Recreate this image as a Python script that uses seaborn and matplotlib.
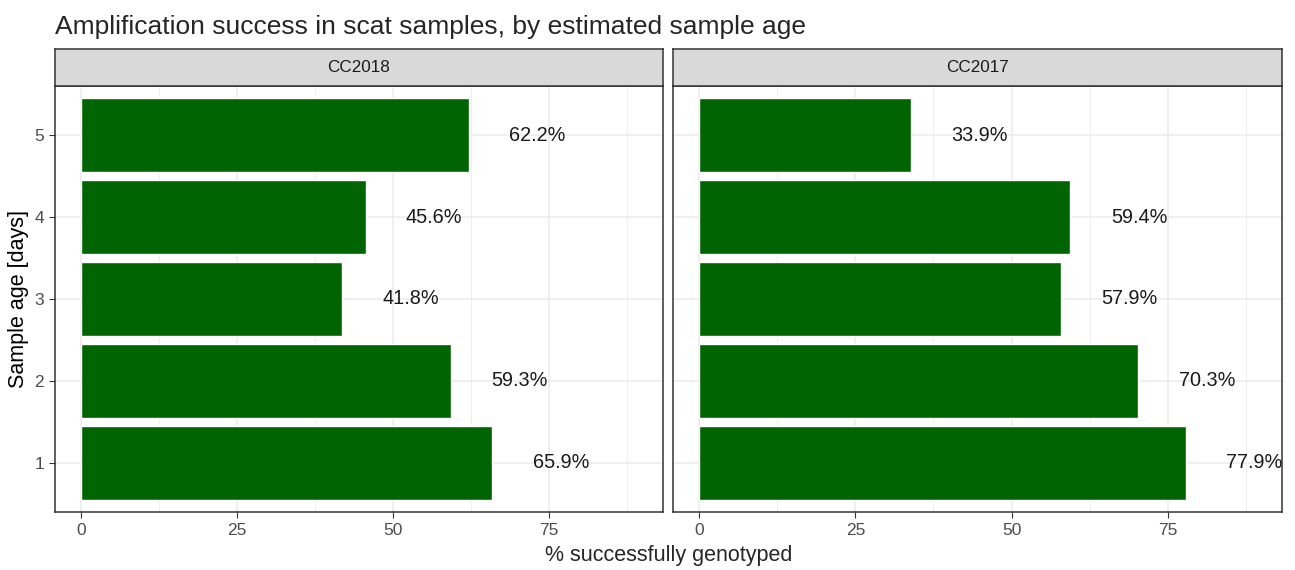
import matplotlib
matplotlib.use("Agg")
import matplotlib.pyplot as plt
import seaborn as sns
import pandas as pd

# data
ages = ["5", "4", "3", "2", "1"]
cc2018 = [62.2, 45.6, 41.8, 59.3, 65.9]
cc2017 = [33.9, 59.4, 57.9, 70.3, 77.9]
panels = ["CC2018", "CC2017"]
xticks = [0, 25, 50, 75]

df = pd.DataFrame({
    "age": ages * 2,
    "pct": cc2018 + cc2017,
    "site": ["CC2018"] * 5 + ["CC2017"] * 5,
})

sns.set_style("white")
plt.rcParams["font.family"] = ["Liberation Sans", "DejaVu Sans"]

fig = plt.figure(figsize=(12.95, 5.7), dpi=100)
W, H = 1295, 570
panel_px = [(55, 663), (673, 1282)]
top, bottom = 86, 512
strip_top = 49

for i, site in enumerate(panels):
    x0, x1 = panel_px[i]
    ax = fig.add_axes([x0 / W, 1 - bottom / H, (x1 - x0) / W, (bottom - top) / H])
    sub = df[df["site"] == site]
    sns.barplot(data=sub, x="pct", y="age", order=ages, orient="h",
                color="#006400", saturation=1, width=0.9, ax=ax, zorder=3)
    for j, v in enumerate(sub["pct"]):
        ax.text(v + 11, j, f"{v:.1f}%", ha="center", va="center",
                fontsize=14.3, color="#1a1a1a", zorder=4)
    ax.set_xlim(-4.2, 93.3)
    ax.set_ylim(4.6, -0.6)
    ax.set_xticks(xticks)
    ax.set_xticks([12.5, 37.5, 62.5, 87.5], minor=True)
    ax.grid(True, which="major", color="#EBEBEB", lw=1.1, zorder=0)
    ax.grid(True, which="minor", axis="x", color="#EBEBEB", lw=0.6, zorder=0)
    for s in ax.spines.values():
        s.set_color("#333333")
        s.set_linewidth(1.1)
    ax.tick_params(axis="both", which="major", length=4, color="#333333",
                   labelsize=12.5, labelcolor="#4D4D4D", left=True, bottom=True,
                   pad=4)
    ax.tick_params(which="minor", length=0)
    ax.set_xlabel("")
    if i == 0:
        ax.set_ylabel("Sample age [days]", fontsize=15.5, color="black", labelpad=4)
    else:
        ax.set_ylabel("")
        ax.set_yticklabels([])
        ax.tick_params(axis="y", length=0)
    # facet strip
    sax = fig.add_axes([x0 / W, 1 - top / H, (x1 - x0) / W, (top - strip_top) / H])
    sax.set_facecolor("#D9D9D9")
    sax.set_xticks([])
    sax.set_yticks([])
    for s in sax.spines.values():
        s.set_color("#333333")
        s.set_linewidth(1.1)
    sax.text(0.5, 0.5, site, ha="center", va="center", fontsize=12.3,
             color="#1a1a1a", transform=sax.transAxes)

fig.text((55 + 1282) / 2 / W, 1 - 556 / H, "% successfully genotyped",
         ha="center", va="center", fontsize=15.5)
fig.text(55 / W, 1 - 27 / H, "Amplification success in scat samples, by estimated sample age",
         ha="left", va="center", fontsize=19)

fig.savefig("out.png", dpi=100)
